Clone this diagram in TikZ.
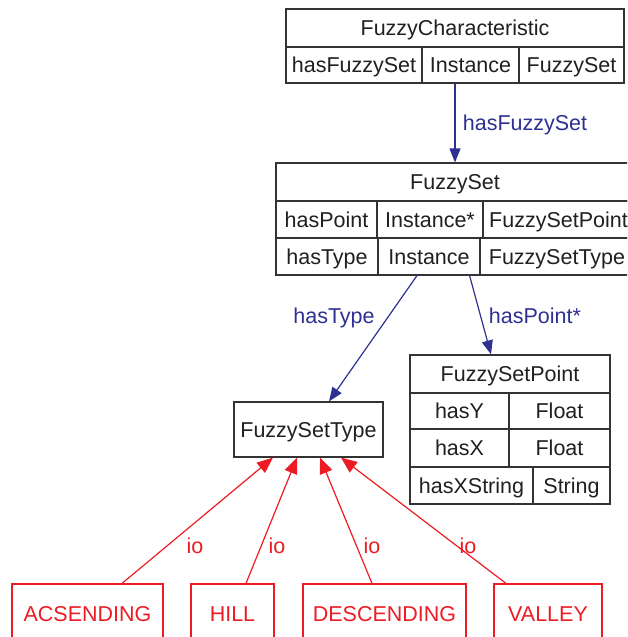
\documentclass[tikz,border=0pt]{standalone}
\usepackage{fontspec}
\setmainfont{Liberation Sans}
\usetikzlibrary{arrows.meta}
\definecolor{ink}{HTML}{231F20}
\definecolor{edgegray}{HTML}{333333}
\definecolor{relblue}{HTML}{2E3192}
\definecolor{instred}{HTML}{ED1C24}
\tikzset{
  basefont/.style={font=\fontsize{21.5}{25}\selectfont},
  cell/.style={basefont, draw=edgegray, line width=1.2pt, text=ink, inner sep=0pt,
    text height=17.5pt, text depth=2pt},
  instbox/.style={cell, draw=instred, text=instred},
  rellabel/.style={basefont, text=relblue, inner sep=0pt, anchor=base},
  iolabel/.style={basefont, text=instred, inner sep=0pt, anchor=base},
  relarrow/.style={draw=relblue, line width=1.2pt, -{Triangle[length=14pt,width=11pt]}},
  ioarrow/.style={draw=instred, line width=1.2pt, -{Triangle[length=16pt,width=13pt]}},
}
\newcommand\mkcell[7][cell]{\node[#1, minimum width={#5-#3}, minimum height={#6-#4}] (#2) at ({(#3+#5)/2},{(#4+#6)/2}) {#7};}
\begin{document}
\begin{tikzpicture}[x=1pt,y=-1pt]
\clip (0,0) rectangle (627,637);
\fill[white] (0,0) rectangle (627,637);
% FuzzyCharacteristic
\mkcell{fcT}{286}{9}{624}{47}{FuzzyCharacteristic}
\mkcell{fcA}{286}{47}{422}{83}{hasFuzzySet}
\mkcell{fcB}{422}{47}{519}{83}{Instance}
\mkcell{fcC}{519}{47}{624}{83}{FuzzySet}
% FuzzySet
\mkcell{fsT}{276}{163}{634}{201}{FuzzySet}
\mkcell{fsPa}{276}{201}{377}{238}{hasPoint}
\mkcell{fsPb}{377}{201}{483}{238}{Instance*}
\mkcell{fsPc}{483}{201}{634}{238}{FuzzySetPoint}
\mkcell{fsTa}{276}{238}{378}{275}{hasType}
\mkcell{fsTb}{378}{238}{480}{275}{Instance}
\mkcell{fsTc}{480}{238}{634}{275}{FuzzySetType}
% FuzzySetPoint
\mkcell{fpT}{410}{355}{610}{393}{FuzzySetPoint}
\mkcell{fpYa}{410}{393}{509}{429}{hasY}
\mkcell{fpYb}{509}{393}{610}{429}{Float}
\mkcell{fpXa}{410}{429}{509}{467}{hasX}
\mkcell{fpXb}{509}{429}{610}{467}{Float}
\mkcell{fpSa}{410}{467}{533}{504}{hasXString}
\mkcell{fpSb}{533}{467}{610}{504}{String}
% FuzzySetType
\mkcell{fst}{234}{402}{383}{457}{FuzzySetType}
% instances
\mkcell[instbox]{asc}{12}{584}{163}{643}{ACSENDING}
\mkcell[instbox]{hill}{191}{584}{274}{643}{HILL}
\mkcell[instbox]{desc}{303}{584}{466}{643}{DESCENDING}
\mkcell[instbox]{valley}{494}{584}{602}{643}{VALLEY}
% relations
\draw[relarrow] (fsT.north |- fcB.south) -- (fsT.north);
\node[rellabel] (lbFS) at (525,130) {hasFuzzySet};
\draw[relarrow] ([xshift=-12pt]fsTb.south) -- ([xshift=20.5pt]fst.north);
\node[rellabel] (lbT) at (334,323) {hasType};
\draw[relarrow] ([xshift=-11pt]fsTb.south east) -- ([xshift=-19pt]fpT.north);
\node[rellabel] (lbP) at (535,323) {hasPoint*};
% instance-of arrows
\draw[ioarrow] ([xshift=34.5pt]asc.north) -- ([xshift=-35.5pt]fst.south);
\draw[ioarrow] ([xshift=13.5pt]hill.north) -- ([xshift=-11.5pt]fst.south);
\draw[ioarrow] ([xshift=-12.5pt]desc.north) -- ([xshift=11.5pt]fst.south);
\draw[ioarrow] ([xshift=-42pt]valley.north) -- ([xshift=32.5pt]fst.south);
\node[iolabel] (io1) at (195,553) {io};
\node[iolabel] (io2) at (277,553) {io};
\node[iolabel] (io3) at (372,553) {io};
\node[iolabel] (io4) at (468,553) {io};
\end{tikzpicture}
\end{document}
